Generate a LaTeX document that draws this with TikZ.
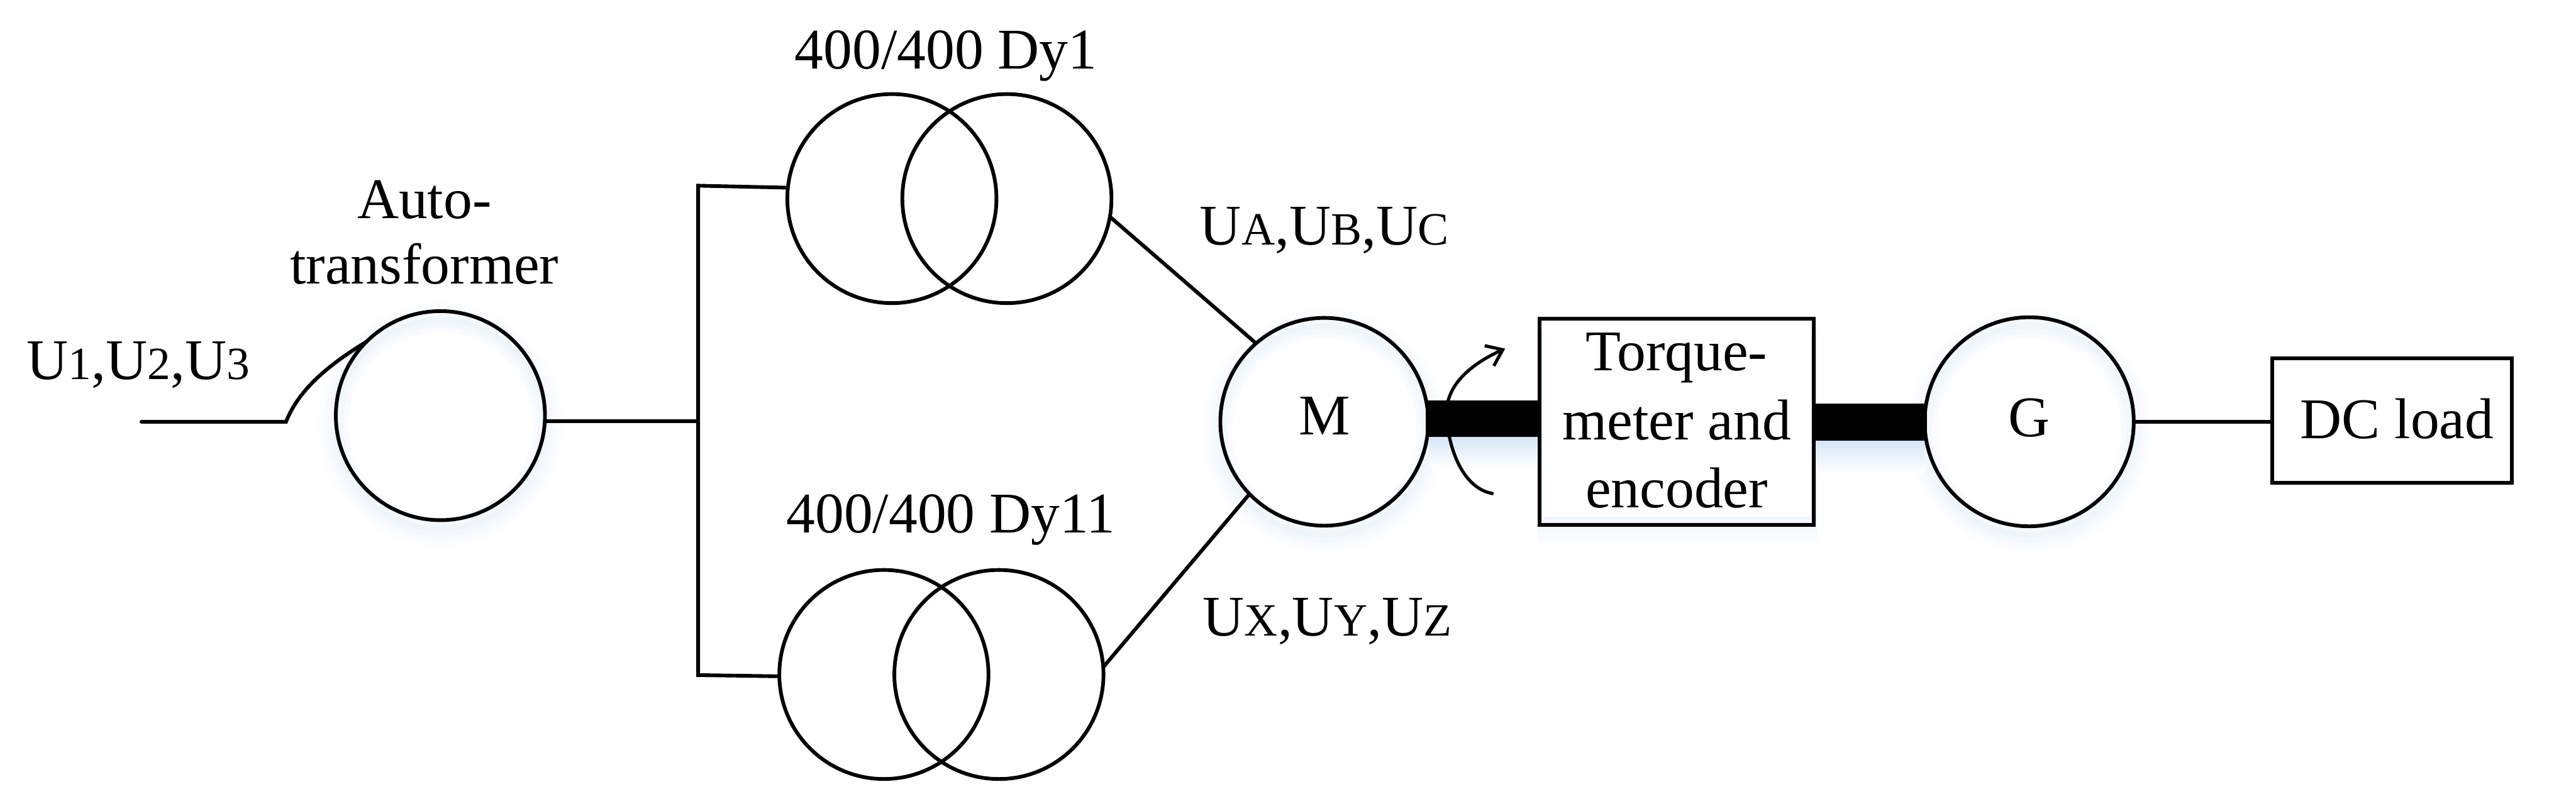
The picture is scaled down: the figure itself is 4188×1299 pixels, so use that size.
\documentclass[tikz,border=0pt]{standalone}
\usepackage{fontspec}
\usetikzlibrary{arrows.meta}
\setmainfont{Liberation Serif}
\definecolor{glowblue}{HTML}{D6E6F5}
\newcommand{\lblfont}{\fontsize{23.4}{28}\selectfont}
\newcommand{\sm}[1]{{\fontsize{18.8}{24}\selectfont #1}}
\newcommand{\softdisc}[2]{%
  \foreach \rr/\cc in {198/8,190/18,182/30,174/42,166/30,158/14,150/0}{
    \fill[glowblue!\cc!white] (#1,#2+14) circle[radius=\rr*0.25pt];
  }}
\begin{document}
\begin{tikzpicture}[x=0.25pt,y=-0.25pt,
  wire/.style={line width=1.5pt,line cap=round},
  coil/.style={circle,draw,line width=1.5pt,minimum size=85pt,inner sep=0pt,outer sep=0pt},
  boxed/.style={rectangle,draw,line width=1.6pt,inner sep=0pt,outer sep=0pt},
  lbl/.style={anchor=base,inner sep=0pt,font=\lblfont}]
\useasboundingbox (0,0) rectangle (4188,1299);
\fill[white] (0,0) rectangle (4188,1299);
% soft glow
\softdisc{716}{676}
\softdisc{2153}{686}
\softdisc{3299}{686}
\foreach \i/\cc in {0/8,1/16,2/26,3/36}{
  \fill[glowblue!\cc!white] (2500,540) rectangle (2955,886-\i*9);
}
\fill[white] (2509,535) rectangle (2944,840);
\shade[top color=glowblue,bottom color=white] (2323,711) rectangle (2503,760);
\shade[top color=glowblue,bottom color=white] (2949,717) rectangle (3129,770);
% shafts
\fill[black] (2318,651) rectangle (2505,711);
\fill[black] (2947,656) rectangle (3133,717);
% main shapes
\node[coil] (auto) at (716,676) {};
\node[coil] (t1a) at (1450,323) {};
\node[coil] (t1b) at (1637,323) {};
\node[coil] (t2a) at (1437,1097) {};
\node[coil] (t2b) at (1624,1097) {};
\node[coil,minimum size=84.5pt] (mot) at (2153,686) {};
\node[coil] (gen) at (3299,686) {};
\node[boxed,minimum width=111.5pt,minimum height=84pt] (meter) at (2726,686) {};
\node[boxed,minimum width=97.5pt,minimum height=50.75pt] (load) at (3889,684) {};
% connectors
\coordinate (inp) at (230,686);
\coordinate (bend) at (465,686);
\coordinate (jt) at (1135,302);
\coordinate (jm) at (1135,686);
\coordinate (jb) at (1135,1098);
\draw[wire] (inp) -- (bend) .. controls (487,630) and (540,590) .. (auto.135);
\draw[wire,line cap=butt] (auto.-3) -- (auto.-3 -| jm);
\draw[wire,line cap=butt] (t1a.174) -- (jt) -- (jb) -- (t2a.181);
\draw[wire,line cap=butt] (t1b.-10) -- (mot.131);
\draw[wire,line cap=butt] (t2b.4) -- (mot.224);
\draw[wire,line cap=butt] (gen.east) -- (gen.east -| load.west);
\coordinate (rotA) at (2428,803);
\coordinate (rotB) at (2447,567);
\draw[line width=1.3pt,-{Straight Barb[length=6pt,width=9pt]}] (rotA) .. controls (2375,795) and (2352,720) .. (2352,670) .. controls (2352,630) and (2385,595) .. (rotB);
% labels
\node[lbl] (t1l) at (1538,112) {400/400 Dy1};
\node[lbl] (t2l) at (1546,867) {400/400 Dy11};
\node[lbl] (al1) at (690,355) {Auto-};
\node[lbl] (al2) at (690,462) {transformer};
\node[lbl,anchor=base west] (ul) at (43,617) {U\sm{1},U\sm{2},U\sm{3}};
\node[lbl,anchor=base west] (ua) at (1950,398) {U\sm{A},U\sm{B},U\sm{C}};
\node[lbl,anchor=base west] (ux) at (1955,1034) {U\sm{X},U\sm{Y},U\sm{Z}};
\node[lbl] (ml) at (2153,707) {M};
\node[lbl] (gl) at (3299,710) {G};
\node[lbl] (q1) at (2726,603) {Torque-};
\node[lbl] (q2) at (2726,715) {meter and};
\node[lbl] (q3) at (2726,826) {encoder};
\node[lbl] (dl) at (3897,713) {DC load};
\end{tikzpicture}
\end{document}
